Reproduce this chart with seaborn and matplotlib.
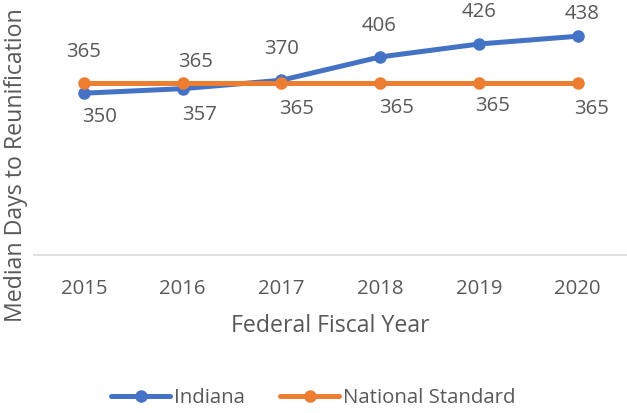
import matplotlib
matplotlib.use("Agg")
import matplotlib.pyplot as plt
import seaborn as sns
import pandas as pd

# Median days to reunification by federal fiscal year
years = [2015, 2016, 2017, 2018, 2019, 2020]
indiana = [350, 357, 370, 406, 426, 438]
national_standard = [365, 365, 365, 365, 365, 365]

# label offsets in pixels (dx, dy) for each series
indiana_offsets = [(16, -24), (17, -26), (0, 31), (-1, 31), (0, 32), (4, 22)]
national_offsets = [(0, 31), (13, 21), (15, -26), (16, -25), (14, -23), (14, -26)]

sns.set_theme(style="white")
plt.rcParams["font.family"] = ["Open Sans", "DejaVu Sans"]

text_color = "#595959"
blue = "#4472C4"
orange = "#ED7D31"
fs = 14.7
title_fs = 16.7

df = pd.DataFrame({
    "Year": years * 2,
    "Days": indiana + national_standard,
    "Series": ["Indiana"] * len(years) + ["National Standard"] * len(years),
})

fig = plt.figure(figsize=(6.27, 4.13), dpi=100)
ax = fig.add_axes([0.055, 0.3826, 0.945, 0.6174])

sns.lineplot(data=df, x="Year", y="Days", hue="Series",
             palette={"Indiana": blue, "National Standard": orange},
             marker="o", markersize=9, markeredgewidth=0, linewidth=3.6,
             ax=ax, legend=True)

for x, v, (dx, dy) in zip(years, indiana, indiana_offsets):
    ax.annotate(str(v), (x, v), xytext=(dx, dy), textcoords="offset pixels",
                ha="center", va="center", fontsize=fs, color=text_color)
for x, v, (dx, dy) in zip(years, national_standard, national_offsets):
    ax.annotate(str(v), (x, v), xytext=(dx, dy), textcoords="offset pixels",
                ha="center", va="center", fontsize=fs, color=text_color)

ax.set_xlim(2014.5, 2020.5)
ax.set_ylim(100, 494)
ax.set_xticks(years)
ax.set_xticklabels([str(y) for y in years])
ax.set_yticks([])
ax.tick_params(axis="x", length=0, pad=17, labelsize=fs, labelcolor=text_color)

for side in ["top", "right", "left"]:
    ax.spines[side].set_visible(False)
ax.spines["bottom"].set_color("#D9D9D9")
ax.spines["bottom"].set_linewidth(1.2)

ax.set_xlabel("Federal Fiscal Year", fontsize=title_fs, color=text_color, labelpad=11)
ax.set_ylabel("")
fig.text(0.026, 0.60, "Median Days to Reunification", rotation=90,
         ha="center", va="center", fontsize=title_fs, color=text_color)

handles, labels = ax.get_legend_handles_labels()
ax.legend(handles, labels, loc="center", bbox_to_anchor=(0.5, 0.037),
          bbox_transform=fig.transFigure, ncol=2, frameon=False,
          fontsize=fs, handlelength=2.9, handletextpad=0.2,
          columnspacing=1.7, labelcolor=text_color)

fig.savefig("out.png", dpi=100)
